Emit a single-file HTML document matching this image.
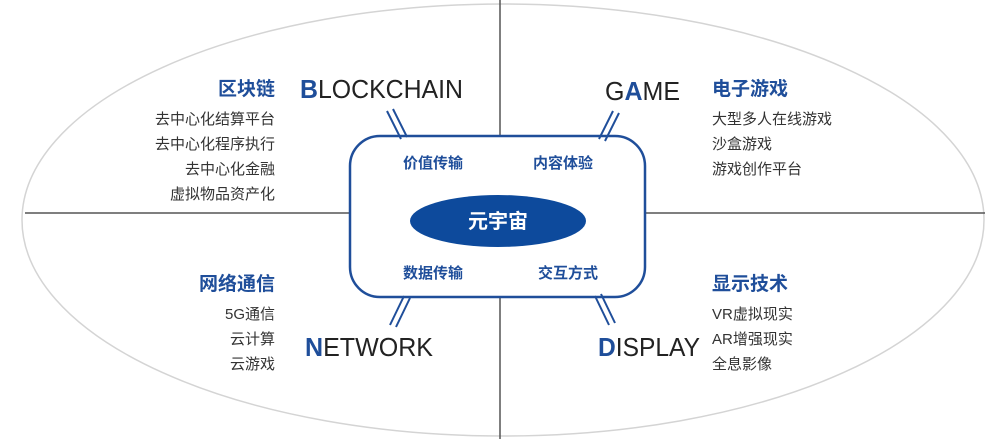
<!DOCTYPE html>
<html><head><meta charset="utf-8"><style>
body{margin:0;background:#fff;}
svg text{font-family:"Liberation Sans","Noto Sans CJK SC",sans-serif;}
</style></head><body>
<svg width="1000" height="439" viewBox="0 0 1000 439">
<ellipse cx="503" cy="220" rx="481" ry="216" fill="none" stroke="#d4d4d4" stroke-width="1.5"/>
<line x1="500" y1="0" x2="500" y2="136" stroke="#555" stroke-width="1.5"/>
<line x1="500" y1="297" x2="500" y2="439" stroke="#555" stroke-width="1.5"/>
<line x1="25" y1="213" x2="350" y2="213" stroke="#555" stroke-width="1.5"/>
<line x1="645" y1="213" x2="985" y2="213" stroke="#555" stroke-width="1.5"/>
<rect x="350" y="136" width="295" height="161" rx="30" fill="#fff" stroke="#1f4e9a" stroke-width="2.5"/>
<ellipse cx="498" cy="221" rx="88" ry="26" fill="#0d4a9c"/>
<text x="498" y="228" text-anchor="middle" fill="#fff" font-size="20" font-weight="bold">元宇宙</text>
<g fill="#1f4e9a" font-size="15" font-weight="bold" text-anchor="middle">
<text x="433" y="168">价值传输</text><text x="563" y="168">内容体验</text>
<text x="433" y="278">数据传输</text><text x="568" y="278">交互方式</text>
</g>
<g stroke="#1f4e9a" stroke-width="2">
<line x1="387" y1="111" x2="401" y2="139"/><line x1="393" y1="109" x2="407" y2="137"/>
<line x1="613" y1="111" x2="599" y2="139"/><line x1="619" y1="113" x2="605" y2="141"/>
<line x1="404" y1="296" x2="390" y2="325"/><line x1="410" y1="298" x2="396" y2="327"/>
<line x1="595" y1="296" x2="609" y2="325"/><line x1="601" y1="294" x2="615" y2="323"/>
</g>
<g font-size="26" fill="#222">
<text x="300" y="98" textLength="163" lengthAdjust="spacingAndGlyphs"><tspan fill="#1f4e9a" font-weight="bold">B</tspan>LOCKCHAIN</text>
<text x="605" y="100" textLength="75" lengthAdjust="spacingAndGlyphs">G<tspan fill="#1f4e9a" font-weight="bold">A</tspan>ME</text>
<text x="305" y="356" textLength="128" lengthAdjust="spacingAndGlyphs"><tspan fill="#1f4e9a" font-weight="bold">N</tspan>ETWORK</text>
<text x="598" y="356" textLength="102" lengthAdjust="spacingAndGlyphs"><tspan fill="#1f4e9a" font-weight="bold">D</tspan>ISPLAY</text>
</g>
<g font-size="19" font-weight="bold" fill="#1f4e9a">
<text x="275" y="95" text-anchor="end">区块链</text>
<text x="275" y="290" text-anchor="end">网络通信</text>
<text x="712" y="95">电子游戏</text>
<text x="712" y="290">显示技术</text>
</g>
<g font-size="15" fill="#333">
<g text-anchor="end">
<text x="275" y="124">去中心化结算平台</text><text x="275" y="149">去中心化程序执行</text>
<text x="275" y="174">去中心化金融</text><text x="275" y="199">虚拟物品资产化</text>
<text x="275" y="319">5G通信</text><text x="275" y="344">云计算</text><text x="275" y="369">云游戏</text>
</g>
<text x="712" y="124">大型多人在线游戏</text><text x="712" y="149">沙盒游戏</text><text x="712" y="174">游戏创作平台</text>
<text x="712" y="319">VR虚拟现实</text><text x="712" y="344">AR增强现实</text><text x="712" y="369">全息影像</text>
</g>
</svg>
</body></html>
